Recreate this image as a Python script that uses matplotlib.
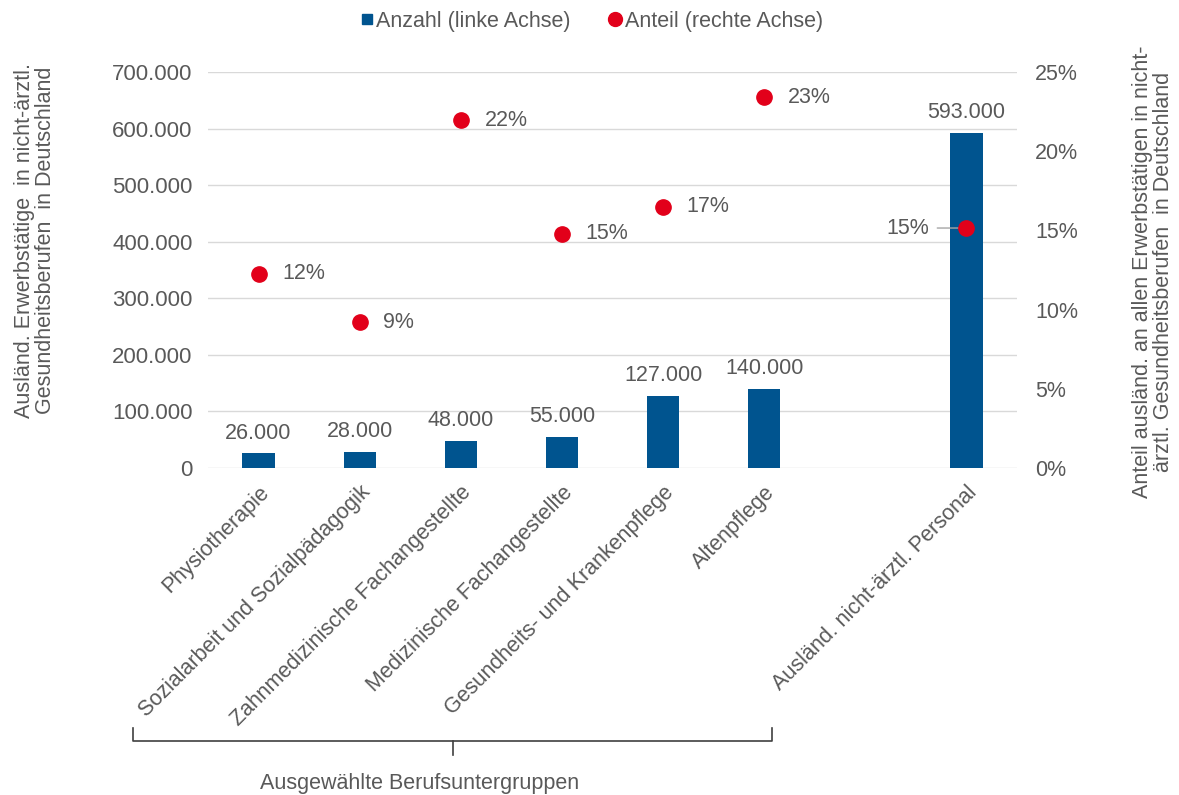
import matplotlib
matplotlib.use("Agg")
import matplotlib.pyplot as plt
from matplotlib.ticker import FuncFormatter
from matplotlib.lines import Line2D

plt.rcParams['font.family'] = ['Liberation Sans', 'DejaVu Sans']

categories = ["Physiotherapie", "Sozialarbeit und Sozialpädagogik",
              "Zahnmedizinische Fachangestellte", "Medizinische Fachangestellte",
              "Gesundheits- und Krankenpflege", "Altenpflege",
              "Ausländ. nicht-ärztl. Personal"]
positions = [0, 1, 2, 3, 4, 5, 7]
anzahl = [26000, 28000, 48000, 55000, 127000, 140000, 593000]
anzahl_labels = ["26.000", "28.000", "48.000", "55.000", "127.000", "140.000", "593.000"]
anteil = [12.25, 9.2, 21.95, 14.8, 16.5, 23.4, 15.15]
anteil_labels = ["12%", "9%", "22%", "15%", "17%", "23%", "15%"]

BLUE = "#00548f"
RED = "#e2001a"
GRAY = "#595959"
GRID = "#d9d9d9"
FS = 15.5

fig = plt.figure(figsize=(11.79, 7.95), dpi=100)
ax = fig.add_axes([208/1179, 1-468/795, (1017-208)/1179, (468-72)/795])
ax2 = ax.twinx()

ax.bar(positions, anzahl, width=0.32, color=BLUE, zorder=2)
ax.set_xlim(-0.5, 7.5)
ax.set_ylim(0, 700000)
ax.set_yticks(range(0, 700001, 100000))
ax.yaxis.set_major_formatter(FuncFormatter(lambda v, p: "0" if v == 0 else f"{int(v):,}".replace(",", ".")))
ax.grid(axis='y', color=GRID, linewidth=1, zorder=0)
ax.set_axisbelow(True)
for s in ax.spines.values():
    s.set_visible(False)
for s in ax2.spines.values():
    s.set_visible(False)

ax.set_xticks(positions)
ax.set_xticklabels(categories, rotation=45, ha='right', rotation_mode='anchor',
                   fontsize=FS, color=GRAY)
ax.tick_params(axis='x', length=0, pad=10)
ax.tick_params(axis='y', length=0, pad=11, labelsize=FS + 0.5, labelcolor=GRAY)

for x, v, lab in zip(positions, anzahl, anzahl_labels):
    ax.annotate(lab, (x, v), xytext=(0, 7), textcoords='offset points',
                ha='center', va='bottom', fontsize=FS, color=GRAY)

ax2.set_ylim(0, 25)
ax2.set_yticks(range(0, 26, 5))
ax2.yaxis.set_major_formatter(FuncFormatter(lambda v, p: f"{int(v)}%"))
ax2.tick_params(axis='y', length=0, pad=13, labelsize=FS, labelcolor=GRAY)
ax2.plot(positions, anteil, linestyle='none', marker='o', ms=11,
         color=RED, zorder=5)

for i, (x, v, lab) in enumerate(zip(positions, anteil, anteil_labels)):
    if i == len(positions) - 1:
        ax2.annotate(lab, (x, v), xytext=(-27, 0), textcoords='offset points',
                     ha='right', va='center', fontsize=FS, color=GRAY,
                     arrowprops=dict(arrowstyle='-', color='#a6a6a6', lw=1,
                                     shrinkA=4, shrinkB=0))
    else:
        ax2.annotate(lab, (x, v), xytext=(17, 0), textcoords='offset points',
                     ha='left', va='center', fontsize=FS, color=GRAY)

def fx(px):
    return px/1179
def fy(py):
    return 1-py/795

fig.text(fx(35), fy(240), "Ausländ. Erwerbstätige  in nicht-ärztl.\nGesundheitsberufen  in Deutschland",
         rotation=90, ha='center', va='center', fontsize=FS, color=GRAY, linespacing=0.95)
fig.text(fx(1153), fy(272), "Anteil ausländ. an allen Erwerbstätigen in nicht-\närztl. Gesundheitsberufen  in Deutschland",
         rotation=90, ha='center', va='center', fontsize=FS, color=GRAY, linespacing=0.95)

handles = [Line2D([], [], linestyle='none', marker='s', ms=7, color=BLUE),
           Line2D([], [], linestyle='none', marker='o', ms=10, color=RED)]
fig.legend(handles, ["Anzahl (linke Achse)", "Anteil (rechte Achse)"],
           loc='center', bbox_to_anchor=(590/1179, 1-21/795), ncol=2, frameon=False,
           fontsize=FS, labelcolor=GRAY, handletextpad=0.0, columnspacing=1.6,
           handlelength=0.9)

# bracket for grouped categories
bc = "#404040"
fig.add_artist(Line2D([fx(133), fx(133), fx(772), fx(772)],
                      [fy(728), fy(741), fy(741), fy(728)], color=bc, lw=1.2))
fig.add_artist(Line2D([fx(453), fx(453)], [fy(741), fy(755)], color=bc, lw=1.2))
fig.text(fx(420), fy(783), "Ausgewählte Berufsuntergruppen", ha='center', va='center',
         fontsize=FS, color=GRAY)

fig.savefig("out.png", dpi=100)
